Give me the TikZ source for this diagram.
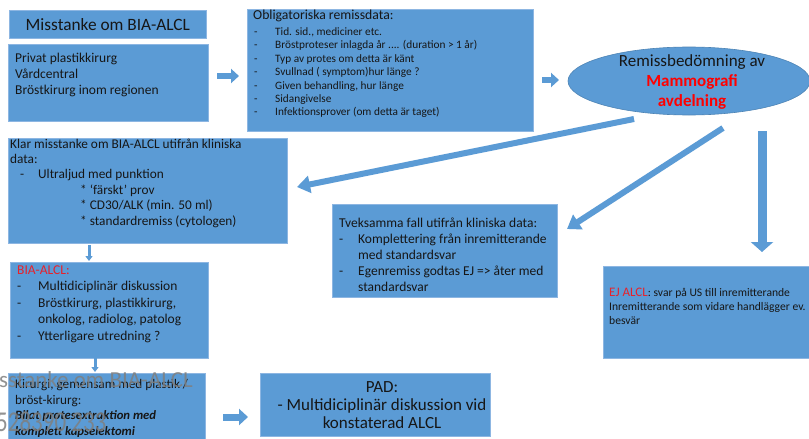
\documentclass[tikz,border=0pt]{standalone}
\usepackage{fontspec}
\setmainfont{Carlito}
\usetikzlibrary{arrows.meta,shapes.geometric}
\definecolor{boxblue}{HTML}{5B9BD5}
\definecolor{edgeblue}{HTML}{8DB6E2}
\definecolor{txt}{HTML}{161616}
\definecolor{redtxt}{HTML}{E8212A}
\definecolor{wmgray}{HTML}{7F7F7F}
\newcommand{\fsz}[2]{\fontsize{#1}{#2}\selectfont}
\newcommand{\itm}[2][20pt]{\makebox[#1][l]{-}#2}
\tikzset{
  box/.style={draw=edgeblue, line width=0.6pt, fill=boxblue, anchor=north west, inner sep=0pt},
  tx/.style={inner sep=0pt, anchor=north west, align=left, text=txt},
  barrow/.style={draw=boxblue, line width=#1},
  barrow/.default=6pt,
}
\begin{document}
\begin{tikzpicture}[x=1pt,y=-1pt]
\useasboundingbox[fill=white] (0,0) rectangle (809,439);

% boxes
\node[box, minimum width=197pt, minimum height=28pt] (title) at (9,10) {};
\node[text=txt, font=\fsz{17.3}{20}] (titletxt) at (title.center) {Misstanke om BIA-ALCL};
\node[box, minimum width=200pt, minimum height=77pt] (src) at (8,44) {};
\node[box, minimum width=286pt, minimum height=122pt] (oblig) at (247,9) {};
\node[ellipse, draw=boxblue!85!black, line width=0.6pt, fill=boxblue, minimum width=242pt, minimum height=68pt, inner sep=0pt] (remiss) at (689,81) {};
\node[box, minimum width=279pt, minimum height=105pt] (klar) at (8,138) {};
\node[box, minimum width=225pt, minimum height=93pt] (tvek) at (332,204) {};
\node[box, minimum width=208pt, minimum height=92pt] (ej) at (603,266) {};
\node[box, minimum width=198pt, minimum height=96pt] (bia) at (10,262) {};
\node[box, minimum width=197pt, minimum height=70pt] (kir) at (8,373) {};
\node[box, minimum width=230pt, minimum height=63pt] (pad) at (260,373) {};

% texts
\node[tx, font=\fsz{13.5}{16}] (srctxt) at (15,53) {Privat plastikkirurg\\Vårdcentral\\Bröstkirurg inom regionen};
\node[tx, font=\fsz{13.7}{15}] (obhead) at (253,9.8) {Obligatoriska remissdata:};
\node[tx, font=\fsz{11.3}{13.4}] (oblist) at (254,27.4) {\itm[21pt]{Tid. sid., mediciner etc.}\\
\itm[21pt]{Bröstproteser inlagda år .... (duration > 1 år)}\\
\itm[21pt]{Typ av protes om detta är känt}\\
\itm[21pt]{Svullnad ( symptom)hur länge ?}\\
\itm[21pt]{Given behandling, hur länge}\\
\itm[21pt]{Sidangivelse}\\
\itm[21pt]{Infektionsprover (om detta är taget)}};
\node[align=center, text=txt, font=\fsz{17}{20}] (remisstxt) at (692,82) {Remissbedömning av\\{\color{red}\bfseries Mammografi}\\{\color{red}\bfseries avdelning}};
\node[tx, font=\fsz{13.3}{15.4}] (klartxt) at (10,138.5) {Klar misstanke om BIA-ALCL utifrån kliniska\\data:\\
\hspace*{10pt}\itm[18pt]{Ultraljud med punktion}\\
\hspace*{70pt}* ‘färskt’ prov\\
\hspace*{70pt}* CD30/ALK (min. 50 ml)\\
\hspace*{70pt}* standardremiss (cytologen)};
\node[tx, font=\fsz{13.5}{16.2}] (tvektxt) at (339,217.3) {Tveksamma fall utifrån kliniska data:\\
\itm[19pt]{Komplettering från inremitterande}\\
\hspace*{19pt}med standardsvar\\
\itm[19pt]{Egenremiss godtas EJ => åter med}\\
\hspace*{19pt}standardsvar};
\node[tx, font=\fsz{11.6}{14}] (ejtxt) at (609,287.5) {{\color{redtxt}\fsz{13}{14}EJ ALCL}:~svar på US till inremitterande\\
Inremitterande som vidare handlägger ev.\\besvär};
\node[tx, font=\fsz{13.5}{16.5}] (biatxt) at (17,265.5) {{\color{redtxt}BIA-ALCL:}\\
\itm[21pt]{Multidiciplinär diskussion}\\
\itm[21pt]{Bröstkirurg, plastikkirurg,}\\
\hspace*{21pt}onkolog, radiolog, patolog\\
\itm[21pt]{Ytterligare utredning ?}};
\node[tx, font=\fsz{13.2}{15.5}] (kirtxt) at (15,379.5) {Kirurgi, gemensam med plastik /\\bröst-kirurg:\\
{\bfseries\itshape\fsz{12.7}{15.5}Bilat protesextraktion med}\\
{\bfseries\itshape\fsz{12.7}{15.5}komplett kapselektomi}};
\node[inner sep=0pt, anchor=north, align=center, text=txt, font=\fsz{17}{18}] (padtxt) at (382,381) {PAD:\\- Multidiciplinär diskussion vid\\konstaterad ALCL};

% connector coordinates
\coordinate (a1s) at (217,76);   \coordinate (a1e) at (239,76);
\coordinate (a2s) at (542,80);   \coordinate (a2e) at (559,80);
\coordinate (a3s) at (634,119);  \coordinate (a3e) at (297,187);
\coordinate (a4s) at (723,128);  \coordinate (a4e) at (567,229);
\coordinate (a5s) at (762,131);  \coordinate (a5e) at (762,252);
\coordinate (a6s) at (89,245);   \coordinate (a6e) at (89,261);
\coordinate (a7s) at (95,358);   \coordinate (a7e) at (95,372);
\coordinate (a8s) at (223,417);  \coordinate (a8e) at (248,417);

% connectors
\draw[barrow=6pt, -{Triangle[width=14pt,length=8pt]}] (a1s) -- (a1e);
\draw[barrow=6pt, -{Triangle[width=14pt,length=8pt]}] (a2s) -- (a2e);
\draw[barrow=6pt, -{Triangle[width=17pt,length=13pt]}] (a3s) -- (a3e);
\draw[barrow=6pt, -{Triangle[width=17pt,length=13pt]}] (a4s) -- (a4e);
\draw[barrow=9pt, -{Triangle[width=22pt,length=10pt]}] (a5s) -- (a5e);
\draw[barrow=3pt, -{Triangle[width=7pt,length=5pt]}] (a6s) -- (a6e);
\draw[barrow=3pt, -{Triangle[width=7pt,length=5pt]}] (a7s) -- (a7e);
\draw[barrow=7pt, -{Triangle[width=16pt,length=9pt]}] (a8s) -- (a8e);

% overlay ghost text
\node[inner sep=0pt, anchor=west, text=wmgray, text opacity=0.85, font=\fsz{23}{26}] (ghost1) at (-1,380) {sstanke om BIA-ALCL};
\node[inner sep=0pt, anchor=west, text=wmgray, text opacity=0.85, font=\fsz{23}{26}, yscale=1.25] (ghost2) at (-4,422) {528390 233};
\end{tikzpicture}
\end{document}
